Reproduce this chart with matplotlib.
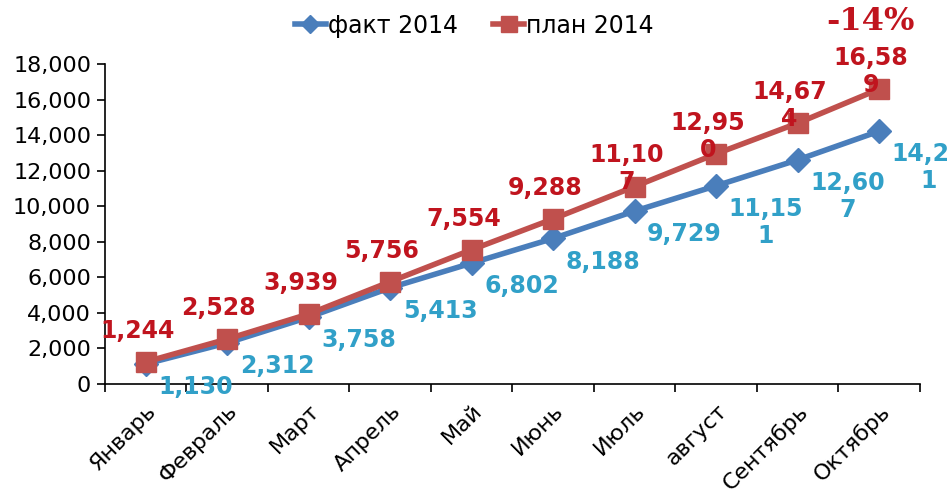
import numpy as np
import matplotlib.pyplot as plt

# data
months = ['Январь', 'Февраль', 'Март', 'Апрель', 'Май', 'Июнь', 'Июль',
          'август', 'Сентябрь', 'Октябрь']
fact = [1130, 2312, 3758, 5413, 6802, 8188, 9729, 11151, 12607, 14221]
plan = [1244, 2528, 3939, 5756, 7554, 9288, 11107, 12950, 14674, 16589]
diff_label = '-14%'

blue = '#4A7EBB'
red = '#C0504D'
blue_txt = '#31A0C8'
red_txt = '#C0141E'


def wrap(v):
    # Excel-like wrapping of long labels
    s = f'{v:,}'
    if len(s) > 5:
        s = s[:5] + '\n' + s[5:]
    return s


fig = plt.figure(figsize=(9.49, 5.01), dpi=100)
ax = fig.add_axes([0.1106, 0.2335, 0.8588, 0.6388])

x = np.arange(len(months))
ax.plot(x, fact, color=blue, lw=4, marker='D', ms=12, label='факт 2014', zorder=3)
ax.plot(x, plan, color=red, lw=4, marker='s', ms=15, label='план 2014', zorder=4)

for xi, v in zip(x, plan):
    ax.annotate(wrap(v), (xi, v), xytext=(-6, 31), textcoords='offset points',
                ha='center', va='top', fontsize=17, fontweight='bold',
                color=red_txt, linespacing=1.15, multialignment='center',
                zorder=6, annotation_clip=False)
for xi, v in zip(x, fact):
    ax.annotate(wrap(v), (xi, v), xytext=(9, -8), textcoords='offset points',
                ha='left', va='top', fontsize=17, fontweight='bold',
                color=blue_txt, linespacing=1.15, multialignment='center',
                zorder=6, annotation_clip=False)

ax.set_xlim(-0.5, len(months) - 0.5)
ax.set_ylim(0, 18000)
ax.set_yticks(np.arange(0, 18001, 2000))
ax.set_yticklabels([f'{t:,}' for t in range(0, 18001, 2000)], fontsize=16)
ax.set_xticks(x)
ax.set_xticklabels(months, rotation=45, ha='right', rotation_mode='anchor', fontsize=16)
ax.set_xticks(np.arange(-0.5, len(months)), minor=True)
ax.tick_params(axis='x', which='major', length=0, pad=12)
ax.tick_params(axis='x', which='minor', length=6, width=1.2)
ax.tick_params(axis='y', length=6, width=1.2, pad=4)
for side in ['top', 'right']:
    ax.spines[side].set_visible(False)
for side in ['left', 'bottom']:
    ax.spines[side].set_linewidth(1.2)

fig.legend(loc='upper center', bbox_to_anchor=(0.5, 1.015), ncol=2, frameon=False,
           fontsize=17, handlelength=1.3, handletextpad=0.1, columnspacing=1.5,
           markerscale=0.8)

fig.text(0.917, 0.957, diff_label, ha='center', va='center', color=red_txt,
         fontsize=23, fontweight='bold', family='DejaVu Serif')

fig.savefig('out.png', dpi=100)
